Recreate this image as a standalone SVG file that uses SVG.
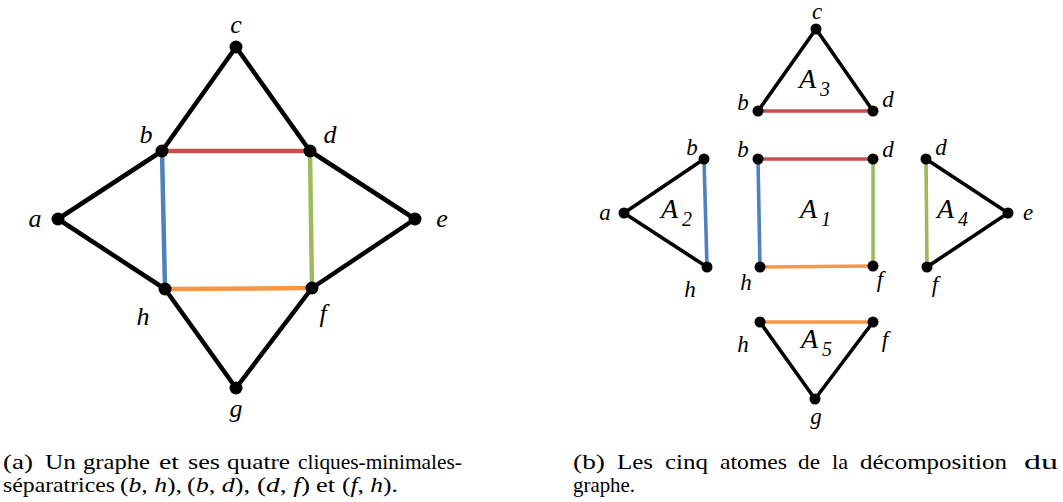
<svg xmlns="http://www.w3.org/2000/svg" width="1063" height="502" viewBox="0 0 1063 502">
<style>
.k{stroke:#000;stroke-linecap:round;fill:none}
.L{stroke-width:4.5}
.R{stroke-width:3.6}
.red{stroke:#c4504f}
.blue{stroke:#4f81bd}
.green{stroke:#9bbb59}
.orange{stroke:#f79646}
.dl{fill:#000}
.lbl{font-family:"Liberation Serif","Times New Roman",serif;font-style:italic;fill:#000;text-anchor:middle}
.lb{font-size:26px}
.rb{font-size:23px}
.at{font-family:"Liberation Serif","Times New Roman",serif;font-style:italic;fill:#000;font-size:28px}
.sub{font-size:20px}
.cap{font-family:"Liberation Serif","Times New Roman",serif;font-size:21px;fill:#000}
.it{font-style:italic}
</style>
<rect width="1063" height="502" fill="#fff"/>
<g id="connectors">
  <line class="k L" x1="236" y1="47" x2="162" y2="151"/>
  <line class="k L" x1="236" y1="47" x2="310" y2="151"/>
  <line class="k L" x1="162" y1="151" x2="58" y2="219"/>
  <line class="k L" x1="58" y1="219" x2="165" y2="289"/>
  <line class="k L" x1="165" y1="289" x2="236" y2="388"/>
  <line class="k L" x1="236" y1="388" x2="312" y2="288"/>
  <line class="k L" x1="312" y1="288" x2="415" y2="219"/>
  <line class="k L" x1="415" y1="219" x2="310" y2="151"/>
  <line class="k L red" x1="162" y1="151" x2="310" y2="151"/>
  <line class="k L blue" x1="162" y1="151" x2="165" y2="289"/>
  <line class="k L green" x1="310" y1="151" x2="312" y2="288"/>
  <line class="k L orange" x1="165" y1="289" x2="312" y2="288"/>
  <line class="k R" x1="816" y1="29" x2="758" y2="111"/>
  <line class="k R" x1="816" y1="29" x2="873" y2="111"/>
  <line class="k R red" x1="758" y1="111" x2="873" y2="111"/>
  <line class="k R red" x1="758" y1="159" x2="873" y2="159"/>
  <line class="k R blue" x1="758" y1="159" x2="760" y2="267"/>
  <line class="k R green" x1="873" y1="159" x2="873" y2="266"/>
  <line class="k R orange" x1="760" y1="267" x2="873" y2="266"/>
  <line class="k R" x1="704" y1="159" x2="624" y2="213"/>
  <line class="k R" x1="624" y1="213" x2="707" y2="267"/>
  <line class="k R blue" x1="704" y1="159" x2="707" y2="267"/>
  <line class="k R" x1="926" y1="159" x2="1008" y2="213"/>
  <line class="k R" x1="1008" y1="213" x2="927" y2="267"/>
  <line class="k R green" x1="926" y1="159" x2="927" y2="267"/>
  <line class="k R orange" x1="760" y1="322" x2="873" y2="322"/>
  <line class="k R" x1="760" y1="322" x2="815" y2="399"/>
  <line class="k R" x1="873" y1="322" x2="815" y2="399"/>
</g>
<g id="L-a"><circle class="dl" cx="58" cy="219" r="6.5"/><text class="lbl lb" x="35" y="227">a</text></g>
<g id="L-b"><circle class="dl" cx="162" cy="151" r="6.5"/><text class="lbl lb" x="146" y="143">b</text></g>
<g id="L-c"><circle class="dl" cx="236" cy="47" r="6.5"/><text class="lbl lb" x="236" y="33">c</text></g>
<g id="L-d"><circle class="dl" cx="310" cy="151" r="6.5"/><text class="lbl lb" x="330" y="143">d</text></g>
<g id="L-e"><circle class="dl" cx="415" cy="219" r="6.5"/><text class="lbl lb" x="442" y="227">e</text></g>
<g id="L-f"><circle class="dl" cx="312" cy="288" r="6.5"/><text class="lbl lb" x="323" y="322">f</text></g>
<g id="L-g"><circle class="dl" cx="236" cy="388" r="6.5"/><text class="lbl lb" x="236" y="417">g</text></g>
<g id="L-h"><circle class="dl" cx="165" cy="289" r="6.5"/><text class="lbl lb" x="143" y="325">h</text></g>
<g id="A3-c"><circle class="dl" cx="816" cy="29" r="5.5"/><text class="lbl rb" x="817" y="19" font-size="21">c</text></g>
<g id="A3-b"><circle class="dl" cx="758" cy="111" r="5.5"/><text class="lbl rb" x="743" y="110">b</text></g>
<g id="A3-d"><circle class="dl" cx="873" cy="111" r="5.5"/><text class="lbl rb" x="888" y="107">d</text></g>
<g id="A3"><text class="at" x="799" y="88">A<tspan class="sub" dx="4" dy="8">3</tspan></text></g>
<g id="A1-b"><circle class="dl" cx="758" cy="159" r="5.5"/><text class="lbl rb" x="743" y="157">b</text></g>
<g id="A1-d"><circle class="dl" cx="873" cy="159" r="5.5"/><text class="lbl rb" x="888" y="157">d</text></g>
<g id="A1-h"><circle class="dl" cx="760" cy="267" r="5.5"/><text class="lbl rb" x="746" y="290">h</text></g>
<g id="A1-f"><circle class="dl" cx="873" cy="266" r="5.5"/><text class="lbl rb" x="880" y="287">f</text></g>
<g id="A1"><text class="at" x="800" y="218">A<tspan class="sub" dx="4" dy="8">1</tspan></text></g>
<g id="A2-b"><circle class="dl" cx="704" cy="159" r="5.5"/><text class="lbl rb" x="692" y="155">b</text></g>
<g id="A2-a"><circle class="dl" cx="624" cy="213" r="5.5"/><text class="lbl rb" x="605" y="220">a</text></g>
<g id="A2-h"><circle class="dl" cx="707" cy="267" r="5.5"/><text class="lbl rb" x="690" y="297">h</text></g>
<g id="A2"><text class="at" x="661" y="218">A<tspan class="sub" dx="4" dy="8">2</tspan></text></g>
<g id="A4-d"><circle class="dl" cx="926" cy="159" r="5.5"/><text class="lbl rb" x="941" y="155">d</text></g>
<g id="A4-e"><circle class="dl" cx="1008" cy="213" r="5.5"/><text class="lbl rb" x="1028" y="220">e</text></g>
<g id="A4-f"><circle class="dl" cx="927" cy="267" r="5.5"/><text class="lbl rb" x="935" y="292">f</text></g>
<g id="A4"><text class="at" x="937" y="218">A<tspan class="sub" dx="4" dy="8">4</tspan></text></g>
<g id="A5-h"><circle class="dl" cx="760" cy="322" r="5.5"/><text class="lbl rb" x="743" y="352">h</text></g>
<g id="A5-f"><circle class="dl" cx="873" cy="322" r="5.5"/><text class="lbl rb" x="885" y="347">f</text></g>
<g id="A5-g"><circle class="dl" cx="815" cy="399" r="5.5"/><text class="lbl rb" x="816" y="424">g</text></g>
<g id="A5"><text class="at" x="801" y="348">A<tspan class="sub" dx="4" dy="8">5</tspan></text></g>
<g id="caption-a" class="cap">
  <text x="3" y="469" textLength="30" lengthAdjust="spacingAndGlyphs">(a)</text>
  <text x="45" y="469" textLength="31" lengthAdjust="spacingAndGlyphs">Un</text>
  <text x="83" y="469" textLength="67" lengthAdjust="spacingAndGlyphs">graphe</text>
  <text x="159" y="469" textLength="20" lengthAdjust="spacingAndGlyphs">et</text>
  <text x="188" y="469" textLength="32" lengthAdjust="spacingAndGlyphs">ses</text>
  <text x="227" y="469" textLength="63" lengthAdjust="spacingAndGlyphs">quatre</text>
  <text x="298" y="469" textLength="164" lengthAdjust="spacingAndGlyphs">cliques-minimales-</text>
  <text x="3" y="492" textLength="112" lengthAdjust="spacingAndGlyphs">séparatrices</text>
  <text x="120" y="492" textLength="62" lengthAdjust="spacingAndGlyphs">(<tspan class="it">b</tspan>, <tspan class="it">h</tspan>),</text>
  <text x="187" y="492" textLength="63" lengthAdjust="spacingAndGlyphs">(<tspan class="it">b</tspan>, <tspan class="it">d</tspan>),</text>
  <text x="257" y="492" textLength="53" lengthAdjust="spacingAndGlyphs">(<tspan class="it">d</tspan>, <tspan class="it">f</tspan>)</text>
  <text x="316" y="492" textLength="19" lengthAdjust="spacingAndGlyphs">et</text>
  <text x="342" y="492" textLength="56" lengthAdjust="spacingAndGlyphs">(<tspan class="it">f</tspan>, <tspan class="it">h</tspan>).</text>
</g>
<g id="caption-b" class="cap">
  <text x="573" y="469" textLength="32" lengthAdjust="spacingAndGlyphs">(b)</text>
  <text x="617" y="469" textLength="36" lengthAdjust="spacingAndGlyphs">Les</text>
  <text x="665" y="469" textLength="43" lengthAdjust="spacingAndGlyphs">cinq</text>
  <text x="720" y="469" textLength="67" lengthAdjust="spacingAndGlyphs">atomes</text>
  <text x="798" y="469" textLength="22" lengthAdjust="spacingAndGlyphs">de</text>
  <text x="832" y="469" textLength="16" lengthAdjust="spacingAndGlyphs">la</text>
  <text x="860" y="469" textLength="147" lengthAdjust="spacingAndGlyphs">décomposition</text>
  <text x="1024" y="469" textLength="34" lengthAdjust="spacingAndGlyphs">du</text>
  <text x="573" y="492" textLength="62" lengthAdjust="spacingAndGlyphs">graphe.</text>
</g>
</svg>
